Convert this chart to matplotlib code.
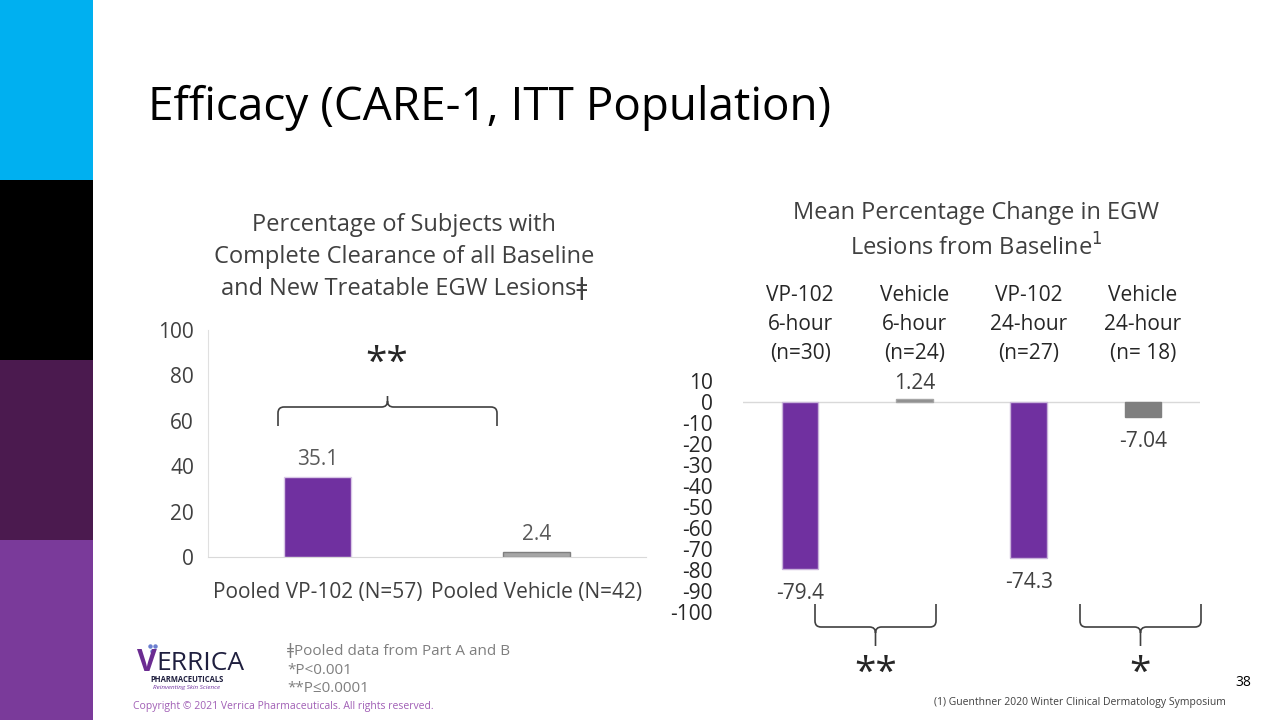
import numpy as np
import matplotlib
matplotlib.use("Agg")
import matplotlib.pyplot as plt
from matplotlib.path import Path
from matplotlib.patches import PathPatch, Rectangle

plt.rcParams['font.family'] = ['Open Sans', 'DejaVu Sans']
plt.rcParams['axes.unicode_minus'] = False

# data
left_cats = ['Pooled VP-102 (N=57)', 'Pooled Vehicle (N=42)']
left_vals = [35.1, 2.4]
left_ticks = [0, 20, 40, 60, 80, 100]

right_cats = ['VP-102\n6-hour\n(n=30)', 'Vehicle\n6-hour\n(n=24)',
              'VP-102\n24-hour\n(n=27)', 'Vehicle\n24-hour\n(n= 18)']
right_vals = [-79.4, 1.24, -74.3, -7.04]
right_ticks = [10, 0, -10, -20, -30, -40, -50, -60, -70, -80, -90, -100]

purple = '#7030A0'
W, H = 1280, 720
fig = plt.figure(figsize=(12.8, 7.2), dpi=100)

def px_axes(x0, y0, x1, y1):
    # y measured from top of figure
    return fig.add_axes([x0 / W, 1 - y1 / H, (x1 - x0) / W, (y1 - y0) / H])

# overlay for decoration
bg = fig.add_axes([0, 0, 1, 1])
bg.set_xlim(0, W)
bg.set_ylim(H, 0)
bg.axis('off')
for y0, c in zip([0, 180, 360, 540], ['#00B0F0', '#000000', '#4B1A4F', '#7A3A9A']):
    bg.add_patch(Rectangle((0, y0), 93, 180, color=c, lw=0))

bg.text(148, 108, 'Efficacy (CARE-1, ITT Population)', fontsize=33,
        color='#000000', va='center', ha='left')

# ---- left chart
ax1 = px_axes(208, 330, 646, 557)
x1 = np.arange(len(left_vals))
ax1.bar(x1, left_vals, width=0.31, color=[purple, '#A6A6A6'],
        edgecolor=['#D9C7E6', '#7F7F7F'], linewidth=1)
ax1.set_xlim(-0.5, 1.5)
ax1.set_ylim(0, 100)
ax1.set_yticks(left_ticks)
ax1.set_xticks(x1)
ax1.set_xticklabels(left_cats, fontsize=15, color='#404040')
ax1.tick_params(axis='both', length=0, labelsize=15, labelcolor='#404040')
ax1.tick_params(axis='y', pad=10)
ax1.tick_params(axis='x', pad=18)
for s in ['top', 'right']:
    ax1.spines[s].set_visible(False)
ax1.spines['left'].set_color('#E0E0E0')
ax1.spines['bottom'].set_color('#D9D9D9')
for i, v in enumerate(left_vals):
    ax1.annotate(f'{v}', (i, v), xytext=(0, 5), textcoords='offset points',
                 ha='center', va='bottom', fontsize=15, color='#595959')
ax1.patch.set_alpha(0)

bg.text(404, 257, 'Percentage of Subjects with\nComplete Clearance of all Baseline\nand New Treatable EGW Lesions\u01c2',
        fontsize=17, ha='center', va='center', color='#404040', linespacing=1.45)

# ---- right chart
ax2 = px_axes(743, 381, 1200, 612)
x2 = np.arange(len(right_vals))
ax2.bar(x2, right_vals, width=0.32, color=[purple, '#8C8C8C', purple, '#7F7F7F'],
        edgecolor=['#C9B3DA', '#A6A6A6', '#C9B3DA', '#7F7F7F'], linewidth=1)
ax2.axhline(0, color='#D9D9D9', lw=1, zorder=0)
ax2.set_xlim(-0.5, 3.5)
ax2.set_ylim(-100, 10)
ax2.set_yticks(right_ticks)
ax2.xaxis.tick_top()
ax2.set_xticks(x2)
ax2.set_xticklabels(right_cats, fontsize=15, color='#262626', linespacing=1.5)
ax2.tick_params(axis='both', length=0, labelsize=15)
ax2.tick_params(axis='y', pad=22, labelcolor='#262626')
ax2.tick_params(axis='x', pad=12)
for s in ax2.spines.values():
    s.set_visible(False)
for i, v in enumerate(right_vals):
    if v >= 0:
        ax2.annotate(f'{v}', (i, v), xytext=(0, 4), textcoords='offset points',
                     ha='center', va='bottom', fontsize=15, color='#404040')
    else:
        ax2.annotate(f'{v}', (i, v), xytext=(0, -10), textcoords='offset points',
                     ha='center', va='top', fontsize=15, color='#404040')
ax2.patch.set_alpha(0)

bg.text(976, 231, 'Mean Percentage Change in EGW\nLesions from Baseline$^1$',
        fontsize=17, ha='center', va='center', color='#404040', linespacing=1.45)

# braces
def brace(xa, xb, y_end, y_mid, y_tip, r=6):
    xm = (xa + xb) / 2
    s = np.sign(y_mid - y_end)
    t = np.sign(y_tip - y_mid)
    verts = [(xa, y_end), (xa, y_mid - s * r), (xa, y_mid), (xa + r, y_mid),
             (xm - r, y_mid), (xm, y_mid), (xm, y_mid + t * r), (xm, y_tip),
             (xm, y_mid + t * r), (xm, y_mid), (xm + r, y_mid),
             (xb - r, y_mid), (xb, y_mid), (xb, y_mid - s * r), (xb, y_end)]
    codes = [Path.MOVETO, Path.LINETO, Path.CURVE3, Path.CURVE3,
             Path.LINETO, Path.CURVE3, Path.CURVE3, Path.LINETO,
             Path.MOVETO, Path.CURVE3, Path.CURVE3,
             Path.LINETO, Path.CURVE3, Path.CURVE3, Path.LINETO]
    bg.add_patch(PathPatch(Path(verts, codes), fill=False, lw=1.2, ec='#404040'))

brace(278, 497, 426, 407, 396)
bg.text(387, 364, '**', fontsize=28, ha='center', va='center', color='#262626')
brace(815, 936, 604, 627, 646)
bg.text(876, 674, '**', fontsize=28, ha='center', va='center', color='#262626')
brace(1080, 1201, 604, 627, 646)
bg.text(1140, 674, '*', fontsize=28, ha='center', va='center', color='#262626')

# footnotes
bg.text(287, 670, '\u01c2Pooled data from Part A and B\n*P<0.001\n**P\u22640.0001',
        fontsize=11, ha='left', va='center', color='#7F7F7F', linespacing=1.35)
bg.text(133, 706, 'Copyright \u00a9 2021 Verrica Pharmaceuticals. All rights reserved.',
        fontsize=7.5, ha='left', va='center', color='#A05EB5')
bg.text(1251, 682, '38', fontsize=10, ha='right', va='center', color='#000000')
bg.text(1226, 702, '(1) Guenthner 2020 Winter Clinical Dermatology Symposium',
        fontsize=7.5, ha='right', va='center', color='#404040')

# logo
bg.text(137, 663, 'V', fontsize=22, color='#6B2C91', fontweight='bold', ha='left', va='center')
bg.text(156, 663, 'ERRICA', fontsize=19, color='#1F1F3F', ha='left', va='center')
bg.text(187, 679, 'PHARMACEUTICALS', fontsize=5.5, color='#1F1F3F', fontweight='bold', ha='center', va='center')
bg.text(187, 688, 'Reinventing Skin Science', fontsize=4.5, color='#7030A0', style='italic', ha='center', va='center')
for dx, dy in [(150, 646), (155, 646), (152, 651)]:
    bg.plot(dx, dy, 'o', ms=2.2, color='#6B7FD0')

fig.savefig('out.png', dpi=100)
